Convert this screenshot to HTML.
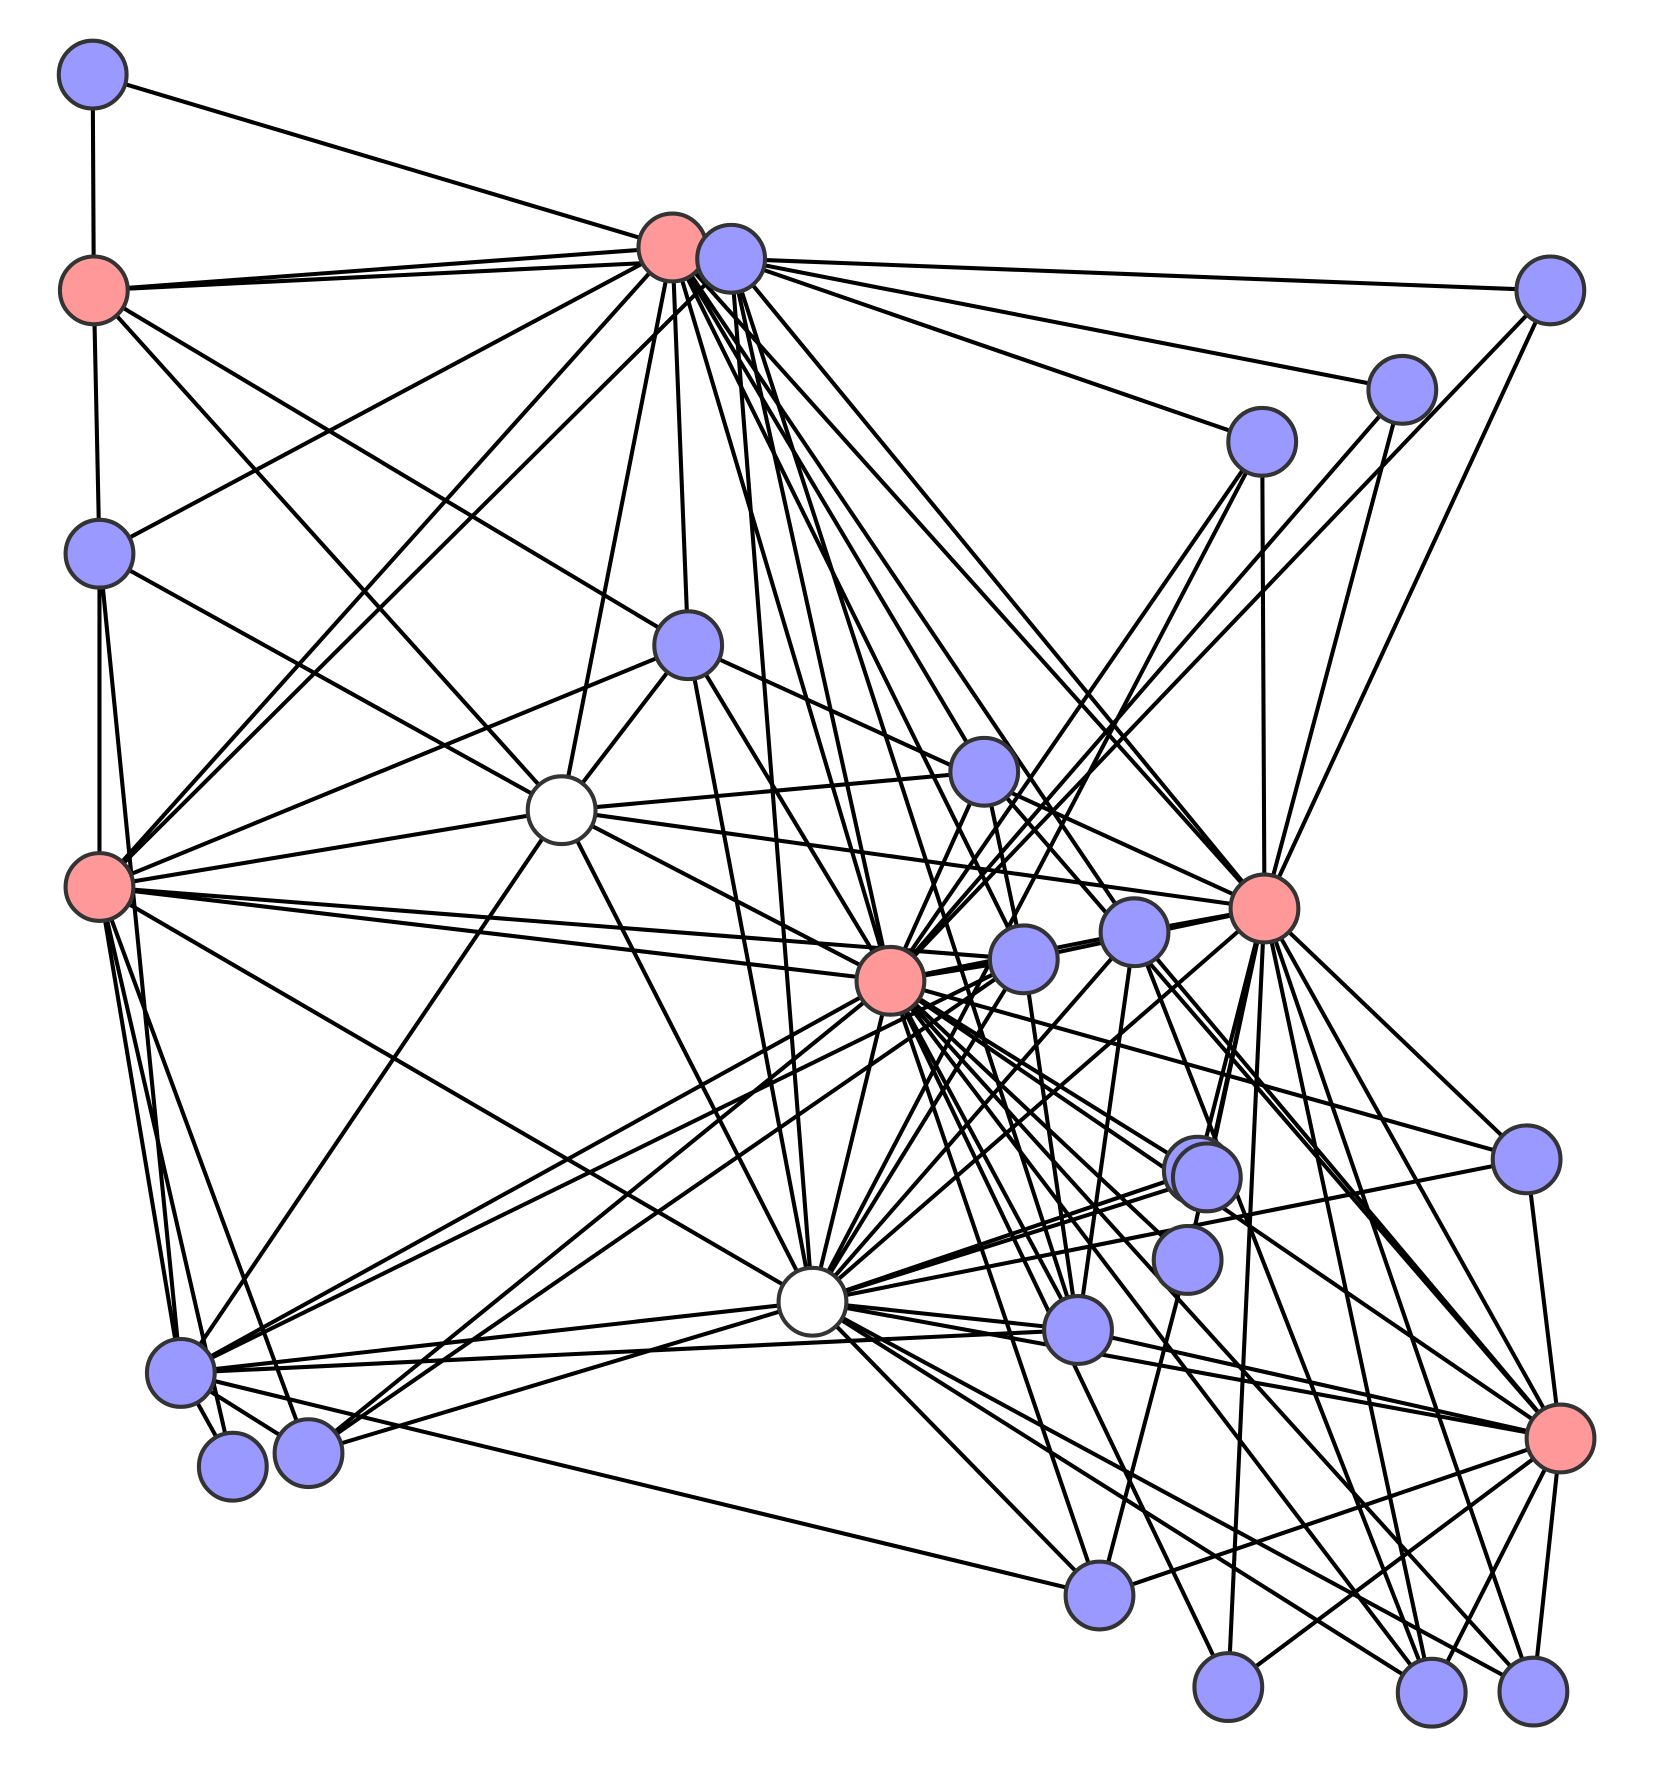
<!DOCTYPE html>
<html><head><meta charset="utf-8"><style>html,body{margin:0;padding:0;background:#fff}svg{display:block}</style></head>
<body>
<svg width="1680" height="1771" viewBox="0 0 1486.7 1567.3" xmlns="http://www.w3.org/2000/svg">
<g stroke="#000" stroke-width="3.6" fill="none" id="edges"></g>
<g stroke="#333" stroke-width="3.6" id="nodes"></g>
<script>
var N={A:[82,66,'b'],B:[83,257,'r'],C:[88,490,'b'],D:[88,785,'r'],E:[595,219,'r'],F:[647,229,'b'],G:[1372,257,'b'],H:[1241,345,'b'],I:[1117,391,'b'],J:[609,571,'b'],K:[497,717,'w'],L:[871,683,'b'],M:[1119,804,'r'],Nn:[788,868,'r'],O:[906,849,'b'],P:[1004,825,'b'],Q:[1351,1026,'b'],R:[1060,1036,'b'],R2:[1068,1042,'b'],S:[1051,1115,'b'],T:[719,1152,'w'],U:[954,1177,'b'],V:[160,1215,'b'],W:[206,1298,'b'],X:[273,1286,'b'],Y:[1381,1273,'r'],Z:[973,1412,'b'],AA:[1087,1493,'b'],AB:[1267,1498,'b'],AC:[1357,1497,'b']};
var E="A-B A-E B-E B-F B-C B-J B-K C-E C-K C-D C-V D-E D-F D-J D-K D-Nn D-O D-T D-V D-W D-X E-J E-K E-Nn E-M E-O E-L E-P F-G F-H F-I F-Nn F-T F-M F-U G-Nn G-M H-Nn H-M I-Nn I-M I-T J-K J-M J-Nn J-T K-L K-M K-Nn K-T K-V L-Nn L-Y L-O M-O M-P M-R M-Q M-Y M-AB M-AC M-AA M-T M-S Nn-O Nn-P Nn-T Nn-V Nn-X Nn-Q Nn-Y Nn-Z Nn-AB Nn-AC Nn-AA Nn-U Nn-S Nn-R2 T-V T-X T-U T-Y T-Z T-AB T-AC T-R T-Q T-P T-O T-R2 V-U V-Z V-W V-X U-Y Z-Y AA-Y AB-Y AC-Y Q-Y P-Y P-AB U-P Z-S O-U M-R2 V-O X-O".split(' ');
var ns='http://www.w3.org/2000/svg',eg=document.getElementById('edges'),ng=document.getElementById('nodes');
E.forEach(function(e){var p=e.split('-'),a=N[p[0]],b=N[p[1]];var l=document.createElementNS(ns,'line');l.setAttribute('x1',a[0]);l.setAttribute('y1',a[1]);l.setAttribute('x2',b[0]);l.setAttribute('y2',b[1]);eg.appendChild(l);});
var col={b:'#9999ff',r:'#ff9999',w:'#ffffff'};
for(var k in N){var n=N[k];var c=document.createElementNS(ns,'circle');c.setAttribute('cx',n[0]);c.setAttribute('cy',n[1]);c.setAttribute('r',30);c.setAttribute('fill',col[n[2]]);ng.appendChild(c);}
</script>
</svg>
</body></html>
